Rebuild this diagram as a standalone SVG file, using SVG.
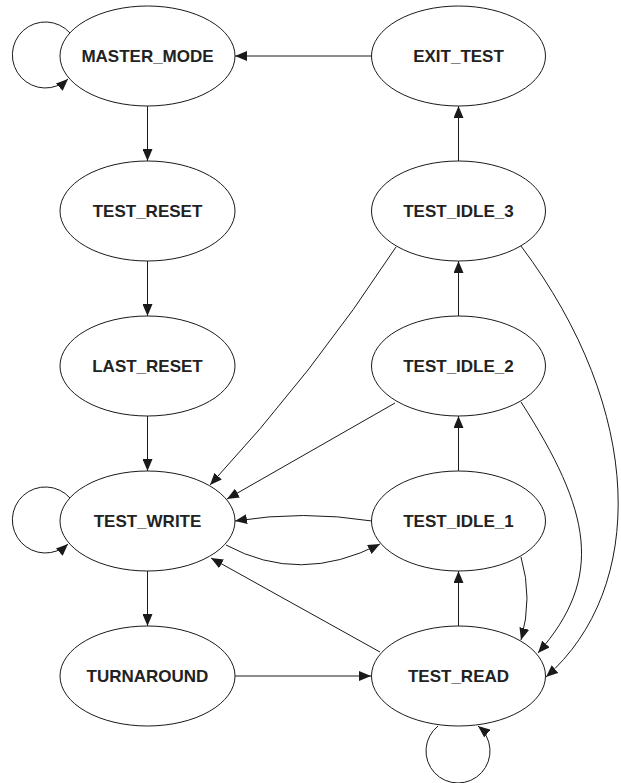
<svg xmlns="http://www.w3.org/2000/svg" width="621" height="783" viewBox="0 0 621 783">
<defs>
<marker id="ah" markerUnits="userSpaceOnUse" markerWidth="12" markerHeight="10" refX="12" refY="5" orient="auto">
<path d="M0,0 L12,5 L0,10 z" fill="#1a1a1a"/>
</marker>
<style>
.node ellipse{fill:#fff;stroke:#1a1a1a;stroke-width:1}
.node text{font-family:"Liberation Sans",Arial,sans-serif;font-weight:bold;font-size:17px;fill:#222;text-anchor:middle}
#edges path{fill:none;stroke:#1a1a1a;stroke-width:1;marker-end:url(#ah)}
</style>
</defs>
<rect width="621" height="783" fill="#fff"/>
<g id="edges">
<path d="M70,33 A33,33 0 1 0 68,79"/>
<path d="M371,56 L235,56"/>
<path d="M147.5,106 L147.5,161"/>
<path d="M147.5,261 L147.5,316"/>
<path d="M147.5,416 L147.5,471"/>
<path d="M147.5,571 L147.5,626"/>
<path d="M235,676 L371,676"/>
<path d="M458.5,626 L458.5,571"/>
<path d="M458.5,471 L458.5,416"/>
<path d="M458.5,316 L458.5,261"/>
<path d="M458.5,161 L458.5,106"/>
<path d="M396,247 Q313,374 210,485"/>
<path d="M395,403 L227,499"/>
<path d="M372,521 Q303,510 235,521"/>
<path d="M226,545 Q300,585 380,544"/>
<path d="M380,652 L211,558"/>
<path d="M521,557 Q533,598 521,640"/>
<path d="M521,402 C591,511 605,577 538,653"/>
<path d="M521,246 C645,411 647,588 546,677"/>
<path d="M70,498 A33,33 0 1 0 68,544"/>
<path d="M438,726 A32,32 0 1 0 478,726"/>
</g>
<g id="MASTER_MODE" class="node"><ellipse cx="147.5" cy="56" rx="87.5" ry="50"/><text x="147.5" y="62">MASTER_MODE</text></g>
<g id="EXIT_TEST" class="node"><ellipse cx="458.5" cy="56" rx="87" ry="50"/><text x="458.5" y="62">EXIT_TEST</text></g>
<g id="TEST_RESET" class="node"><ellipse cx="147.5" cy="211" rx="87.5" ry="50"/><text x="147.5" y="217">TEST_RESET</text></g>
<g id="TEST_IDLE_3" class="node"><ellipse cx="458.5" cy="211" rx="87" ry="50"/><text x="458.5" y="217">TEST_IDLE_3</text></g>
<g id="LAST_RESET" class="node"><ellipse cx="147.5" cy="366" rx="87.5" ry="50"/><text x="147.5" y="372">LAST_RESET</text></g>
<g id="TEST_IDLE_2" class="node"><ellipse cx="458.5" cy="366" rx="87" ry="50"/><text x="458.5" y="372">TEST_IDLE_2</text></g>
<g id="TEST_WRITE" class="node"><ellipse cx="147.5" cy="521" rx="87.5" ry="50"/><text x="147.5" y="527">TEST_WRITE</text></g>
<g id="TEST_IDLE_1" class="node"><ellipse cx="458.5" cy="521" rx="87" ry="50"/><text x="458.5" y="527">TEST_IDLE_1</text></g>
<g id="TURNAROUND" class="node"><ellipse cx="147.5" cy="676" rx="87.5" ry="50"/><text x="147.5" y="682">TURNAROUND</text></g>
<g id="TEST_READ" class="node"><ellipse cx="458.5" cy="676" rx="87" ry="50"/><text x="458.5" y="682">TEST_READ</text></g>
</svg>
